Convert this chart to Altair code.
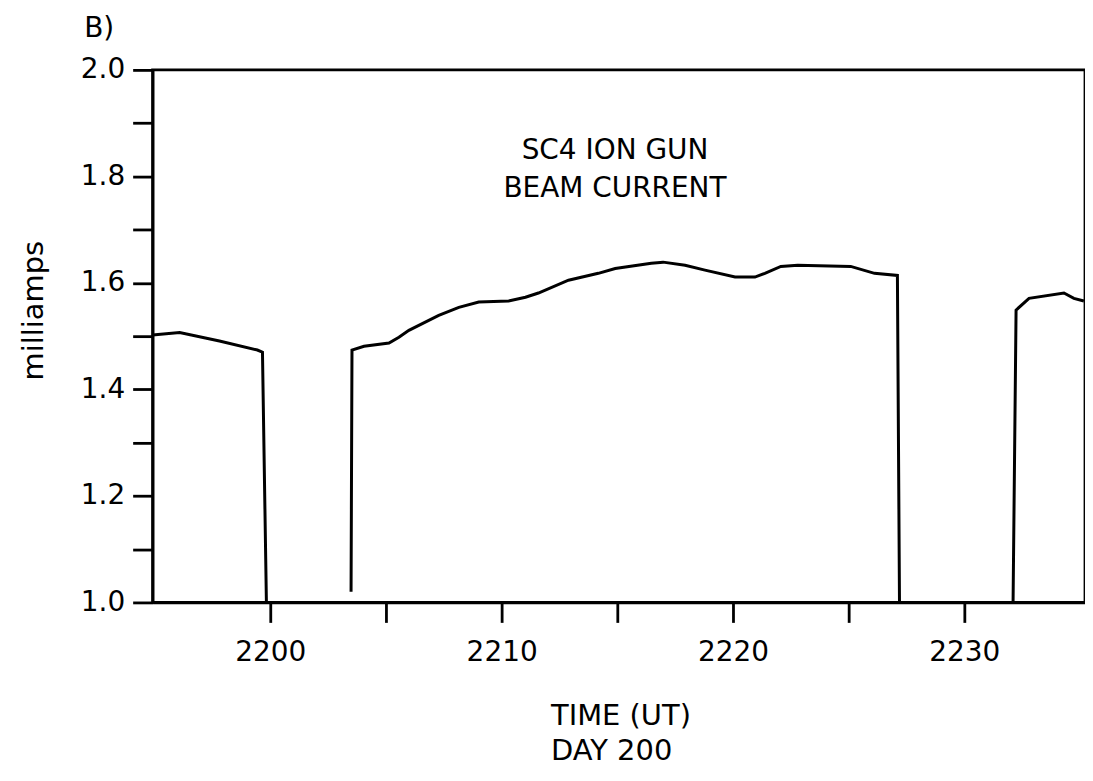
import altair as alt
import pandas as pd

# --- data (time in UT hhmm-as-minutes, current in mA) ---
seg1_t = [2194.91, 2196.08, 2197.80, 2199.44, 2199.66, 2199.83]
seg1_v = [1.502, 1.507, 1.491, 1.474, 1.470, 1.000]

seg2_t = [2203.49, 2203.53, 2204.05, 2205.13, 2205.56, 2205.99, 2207.28, 2208.15,
          2209.01, 2210.30, 2211.03, 2211.59, 2212.89, 2214.18, 2214.91, 2216.47,
          2216.98, 2217.93, 2218.79, 2220.09, 2220.95, 2221.38, 2222.07, 2222.80,
          2225.09, 2226.12, 2227.11, 2227.20]
seg2_v = [1.020, 1.474, 1.481, 1.487, 1.498, 1.511, 1.539, 1.554,
          1.564, 1.566, 1.573, 1.581, 1.605, 1.618, 1.627, 1.637,
          1.639, 1.633, 1.624, 1.611, 1.611, 1.618, 1.631, 1.633,
          1.631, 1.618, 1.614, 1.000]

seg3_t = [2232.11, 2232.24, 2232.80, 2234.31, 2234.74, 2235.17]
seg3_v = [1.000, 1.549, 1.571, 1.581, 1.571, 1.566]

x_ticks = [2200, 2205, 2210, 2215, 2220, 2225, 2230]
y_ticks = [1.0, 1.1, 1.2, 1.3, 1.4, 1.5, 1.6, 1.7, 1.8, 1.9, 2.0]

note_lines = ["SC4 ION GUN", "BEAM CURRENT"]
note_t = [2214.9, 2214.9]
note_v = [1.848, 1.777]

panel_label = ["B)"]
panel_t = [2192.6]
panel_v = [2.077]

FONT = "DejaVu Sans"

rows = []
for name, ts, vs in (("a", seg1_t, seg1_v), ("b", seg2_t, seg2_v), ("c", seg3_t, seg3_v)):
    for i, (t, v) in enumerate(zip(ts, vs)):
        rows.append({"seg": name, "order": i, "t": t, "v": v})
df = pd.DataFrame(rows)
notes = pd.DataFrame({"text": note_lines, "t": note_t, "v": note_v})
panel = pd.DataFrame({"text": panel_label, "t": panel_t, "v": panel_v})

xscale = alt.Scale(domain=[2194.91, 2235.22], nice=False, zero=False)
yscale = alt.Scale(domain=[1.0, 2.0], nice=False, zero=False)

line = alt.Chart(df).mark_line(color="black", strokeWidth=3, clip=True).encode(
    x=alt.X("t:Q", scale=xscale,
            axis=alt.Axis(values=x_ticks,
                          labelExpr="datum.value % 10 == 0 ? format(datum.value, 'd') : ''",
                          title=["TIME (UT)", "DAY 200"],
                          titleAlign="left", titleAnchor="start",
                          titleX=399, titleY=99, titleBaseline="top",
                          titleLineHeight=36,
                          tickSize=20, labelPadding=16, grid=False)),
    y=alt.Y("v:Q", scale=yscale,
            axis=alt.Axis(values=y_ticks,
                          labelExpr="round(datum.value * 10) % 2 == 0 ? format(datum.value, '.1f') : ''",
                          title="milliamps",
                          titleAngle=270, titleX=-119, titleY=241,
                          titleAlign="center", titleBaseline="middle",
                          tickSize=20, labelPadding=8, grid=False)),
    detail="seg:N",
    order="order:Q",
)

text = alt.Chart(notes).mark_text(font=FONT, fontSize=28, color="black",
                                  align="center", baseline="middle").encode(
    x=alt.X("t:Q", scale=xscale),
    y=alt.Y("v:Q", scale=yscale),
    text="text:N",
)

label = alt.Chart(panel).mark_text(font=FONT, fontSize=28, color="black",
                                   align="center", baseline="middle").encode(
    x=alt.X("t:Q", scale=xscale),
    y=alt.Y("v:Q", scale=yscale),
    text="text:N",
)

chart = alt.layer(line, text, label).properties(
    width=935,
    height=534,
    autosize=alt.AutoSizeParams(type="none"),
    padding={"left": 145, "top": 61, "right": 0, "bottom": 176},
).configure(
    background="white"
).configure_view(
    stroke="black", strokeWidth=2.8
).configure_axis(
    domainColor="black", domainWidth=2.8,
    tickColor="black", tickWidth=2.8,
    labelFont=FONT, labelFontSize=28, labelColor="black",
    titleFont=FONT, titleFontSize=29, titleFontWeight="normal", titleColor="black",
    labelFlush=False, labelOverlap=False,
)

chart.save("out.html", embed_options={"renderer": "svg", "actions": False})
